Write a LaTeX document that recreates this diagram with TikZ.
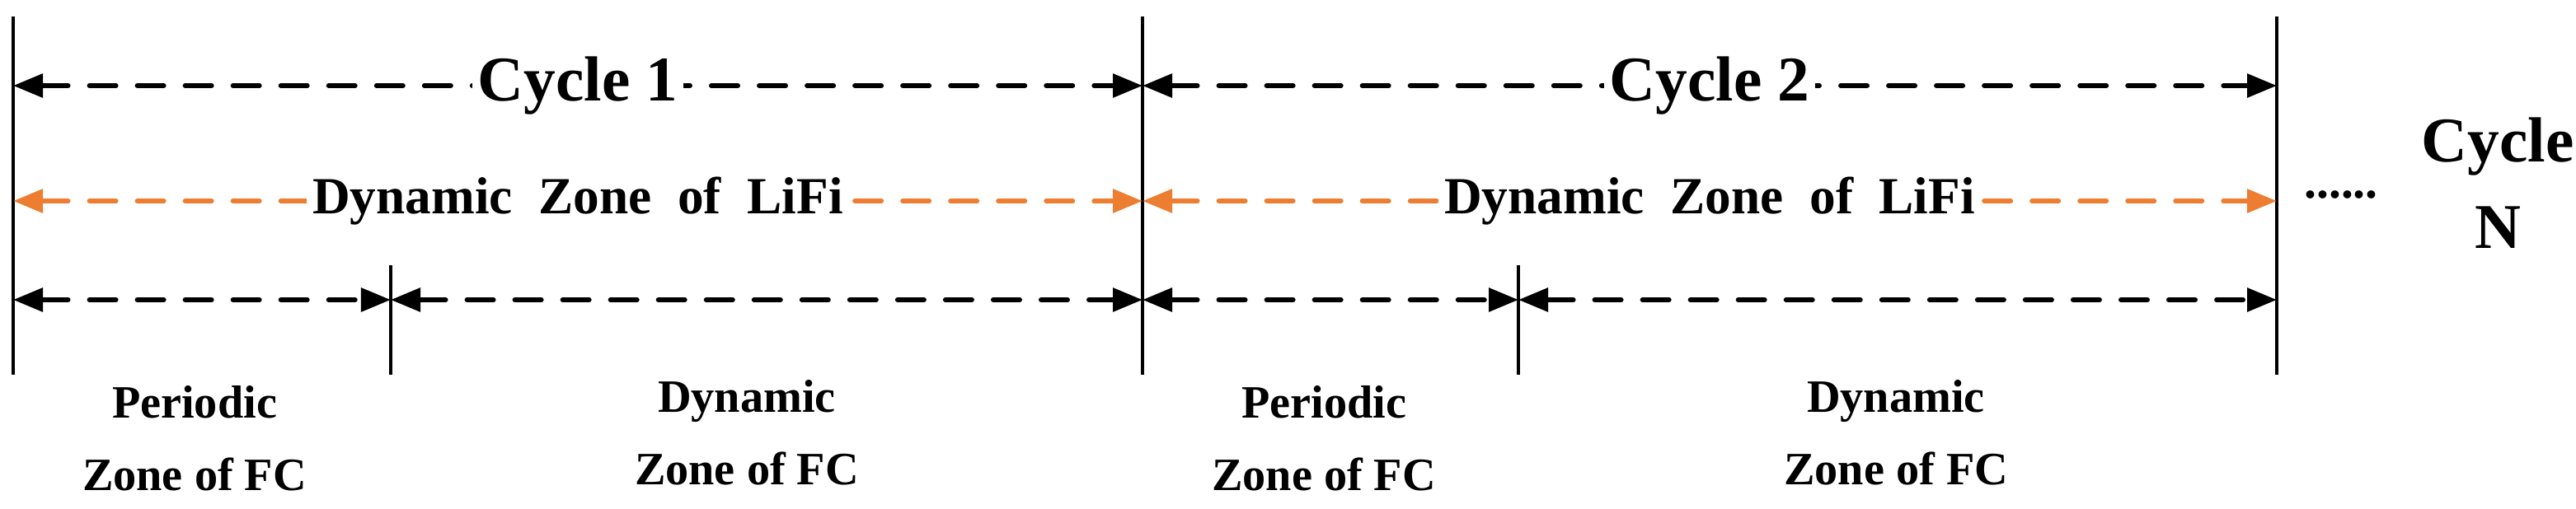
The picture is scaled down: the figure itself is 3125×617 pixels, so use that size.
\documentclass[tikz,border=0pt]{standalone}
\usepackage{fontspec}
\setmainfont{Liberation Serif}
\usetikzlibrary{arrows.meta}
\definecolor{lorange}{RGB}{237,125,49}
\begin{document}
\begin{tikzpicture}[x=0.01cm,y=-0.01cm,
  vline/.style={line width=0.9pt},
  span/.style={line width=1.7pt,line cap=round,dash pattern=on 0.32cm off 0.26cm,{Triangle[length=0.36cm,width=0.28cm]}-{Triangle[length=0.36cm,width=0.28cm]}},
  lbl/.style={fill=white,inner sep=2pt,font=\bfseries},
  sub/.style={align=center,font=\bfseries\fontsize{16}{25}\selectfont}]
\useasboundingbox (0,0) rectangle (3125,617);
\foreach \n/\x in {a/16,b/1386,c/2762}{
  \coordinate (\n t) at (\x,20); \coordinate (\n b) at (\x,455);
  \draw[vline] (\n t) -- (\n b);
  \coordinate (\n1) at (\x,104); \coordinate (\n2) at (\x,244); \coordinate (\n3) at (\x,364);}
\foreach \n/\x in {p/474,q/1842}{
  \coordinate (\n t) at (\x,322); \coordinate (\n b) at (\x,455);
  \draw[vline] (\n t) -- (\n b);
  \coordinate (\n3) at (\x,364);}
\draw[span] (a1) -- node[lbl,font=\bfseries\fontsize{22}{26}\selectfont] {Cycle 1} (b1);
\draw[span] (b1) -- node[lbl,font=\bfseries\fontsize{22}{26}\selectfont] {Cycle 2} (c1);
\draw[span,lorange] (a2) -- node[lbl,text=black,font=\bfseries\fontsize{18}{20}\selectfont] {Dynamic\ \ Zone\ \ of\ \ LiFi} (b2);
\draw[span,lorange] (b2) -- node[lbl,text=black,font=\bfseries\fontsize{18}{20}\selectfont] {Dynamic\ \ Zone\ \ of\ \ LiFi} (c2);
\draw[span] (a3) -- (p3);
\draw[span] (p3) -- (b3);
\draw[span] (b3) -- (q3);
\draw[span] (q3) -- (c3);
\node[sub] (l1) at (236,532) {Periodic\\Zone of FC};
\node[sub] (l2) at (906,525) {Dynamic\\Zone of FC};
\node[sub] (l3) at (1606,532) {Periodic\\Zone of FC};
\node[sub] (l4) at (2300,525) {Dynamic\\Zone of FC};
\node[font=\bfseries\fontsize{17}{30}\selectfont] (ellip) at (2840,236) {......};
\node[align=center,font=\bfseries\fontsize{22}{30}\selectfont] (cn) at (3030,222) {Cycle\\N};
\end{tikzpicture}
\end{document}
